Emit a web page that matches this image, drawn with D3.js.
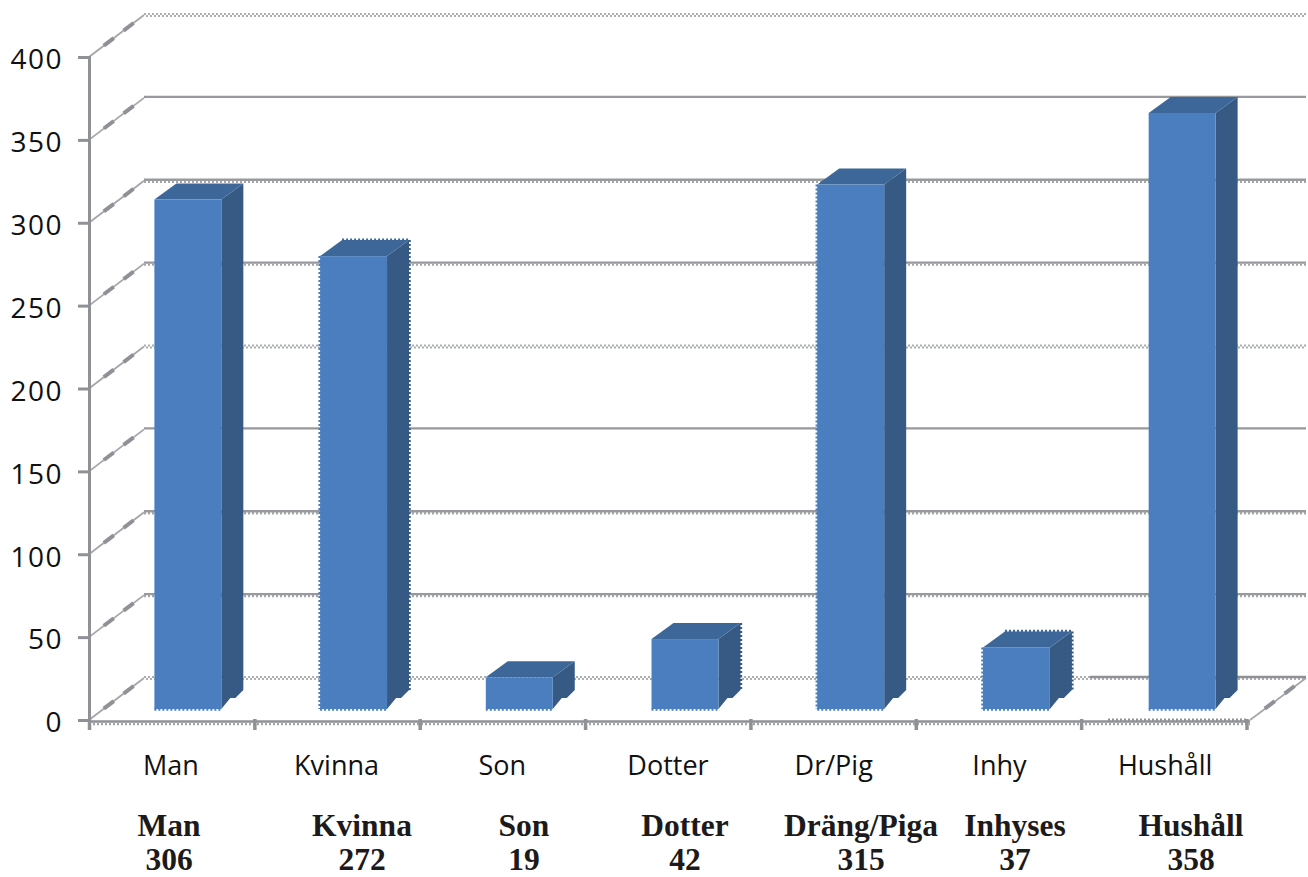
<!DOCTYPE html>
<html>
<head>
<meta charset="utf-8">
<script src="https://cdn.jsdelivr.net/npm/d3@7"></script>
<style>
  html, body { margin: 0; padding: 0; background: #fff; }
  svg { display: block; }
</style>
</head>
<body>
<div id="chart"></div>
<script>
const categories = ["Man", "Kvinna", "Son", "Dotter", "Dr/Pig", "Inhy", "Hushåll"];
const values = [306, 272, 19, 42, 315, 37, 358];
const yTicks = [0, 50, 100, 150, 200, 250, 300, 350, 400];
const captionNames = ["Man", "Kvinna", "Son", "Dotter", "Dräng/Piga", "Inhyses", "Hushåll"];
const captionValues = ["306", "272", "19", "42", "315", "37", "358"];

const width = 1308, height = 877;
const depthX = 55, depthY = 42;      // forskjutning till bakväggen
const barDepthX = 22, barDepthY = 16;
const axisColor = "#8f9196";
const frontColor = "#4a7ebf";

const svg = d3.select("#chart").append("svg")
    .attr("width", width)
    .attr("height", height)
    .attr("viewBox", `0 0 ${width} ${height}`);

const y = d3.scaleLinear().domain([0, 400]).range([720, 57]);
const barY = d3.scaleLinear().domain([0, 400]).range([709, 43]);
const x = d3.scaleBand().domain(categories).range([88, 1248]);
const barX = d3.scaleBand().domain(categories).range([105, 1265])
    .paddingInner(0.596).paddingOuter(0.298);

// Rutnät på bakväggen: hel linje, linje med tänder eller ljus sicksack
const gridKind = v => {
    if (v === 150 || v === 350) return "solid";
    if (v === 0 || v === 200 || v === 400) return "light";
    return "toothed";
};
const gridX = [144, 1306];

const grid = svg.append("g");
grid.selectAll("line.main")
    .data(yTicks.filter(v => gridKind(v) !== "light"))
    .join("line")
    .attr("class", "main")
    .attr("x1", gridX[0]).attr("x2", gridX[1])
    .attr("y1", d => y(d) - depthY - 1)
    .attr("y2", d => y(d) - depthY - 1)
    .attr("stroke", "#97999d")
    .attr("stroke-width", 2.4);
grid.selectAll("line.tooth")
    .data(yTicks.filter(v => gridKind(v) === "toothed"))
    .join("line")
    .attr("class", "tooth")
    .attr("x1", gridX[0]).attr("x2", gridX[1])
    .attr("y1", d => y(d) - depthY + 1)
    .attr("y2", d => y(d) - depthY + 1)
    .attr("stroke", "#a3a5a8")
    .attr("stroke-width", 2.4)
    .attr("stroke-dasharray", "2,2");
[-1, 1].forEach((off, k) => {
    grid.selectAll(`line.zig${k}`)
        .data(yTicks.filter(v => gridKind(v) === "light"))
        .join("line")
        .attr("class", `zig${k}`)
        .attr("x1", gridX[0] + k * 2).attr("x2", gridX[1])
        .attr("y1", d => y(d) - depthY + off)
        .attr("y2", d => y(d) - depthY + off)
        .attr("stroke", "#acaeb1")
        .attr("stroke-width", 2)
        .attr("stroke-dasharray", "2,2");
});

// Diagonalerna från axeln till väggen
const blobs = [0.36, 0.72];
const diag = svg.append("g");
diag.selectAll("line.thin")
    .data(yTicks)
    .join("line")
    .attr("class", "thin")
    .attr("x1", 89)
    .attr("x2", 89 + depthX)
    .attr("y1", d => y(d))
    .attr("y2", d => y(d) - depthY)
    .attr("stroke", "#a4a6a9")
    .attr("stroke-width", 1.8);
blobs.forEach((t, k) => {
    diag.selectAll(`line.blob${k}`)
        .data(yTicks)
        .join("line")
        .attr("class", `blob${k}`)
        .attr("x1", 89 + depthX * (t - 0.09))
        .attr("x2", 89 + depthX * (t + 0.09))
        .attr("y1", d => y(d) - depthY * (t - 0.09))
        .attr("y2", d => y(d) - depthY * (t + 0.09))
        .attr("stroke", axisColor)
        .attr("stroke-width", 4);
});

// Golvet
const floor = svg.append("g").attr("fill", "none").attr("stroke", axisColor);
floor.append("line")
    .attr("x1", 1250).attr("y1", y(0)).attr("x2", 1306).attr("y2", y(0) - depthY)
    .attr("stroke", "#a4a6a9").attr("stroke-width", 1.8);
blobs.forEach(t => {
    floor.append("line")
        .attr("x1", 1250 + depthX * (t - 0.09)).attr("x2", 1250 + depthX * (t + 0.09))
        .attr("y1", y(0) - depthY * (t - 0.09)).attr("y2", y(0) - depthY * (t + 0.09))
        .attr("stroke-width", 4);
});
floor.append("line")
    .attr("x1", 1090).attr("x2", 1306).attr("y1", y(0) - depthY - 1).attr("y2", y(0) - depthY - 1)
    .attr("stroke-width", 2.4);

// Staplarna
const barData = categories.map((c, i) => ({ c, v: values[i] }));
const bars = svg.append("g").selectAll("g")
    .data(barData)
    .join("g");

// vilka stapelkanter som är fransiga i originalet
const frayLeft = ["Kvinna", "Dr/Pig", "Inhy"];
const frayBack = ["Kvinna", "Inhy"];
const frayRight = ["Kvinna", "Dotter", "Inhy"];

bars.append("path")
    .attr("fill", "#375a85")
    .attr("d", d => {
        const r = barX(d.c) + barX.bandwidth();
        const t = barY(d.v), b = barY(0);
        return `M${r},${t}L${r + barDepthX},${t - barDepthY}V${b - barDepthY - 3}L${r + 14},${b - 11}H${r + 9}L${r},${b}Z`;
    });

bars.append("path")
    .attr("fill", "#3d6798")
    .attr("d", d => {
        const l = barX(d.c), r = l + barX.bandwidth();
        const t = barY(d.v);
        return `M${l},${t}L${l + barDepthX},${t - barDepthY}H${r + barDepthX}L${r},${t}Z`;
    });

bars.append("rect")
    .attr("x", d => barX(d.c))
    .attr("y", d => barY(d.v))
    .attr("width", barX.bandwidth())
    .attr("height", d => barY(0) - barY(d.v))
    .attr("fill", frontColor);

const fray = (sel, color) => sel.append("line")
    .attr("stroke", color)
    .attr("stroke-width", 2.4)
    .attr("stroke-dasharray", "2,2");

fray(bars, frontColor)
    .attr("x1", d => barX(d.c))
    .attr("x2", d => barX(d.c) + barX.bandwidth())
    .attr("y1", barY(0) + 0.5)
    .attr("y2", barY(0) + 0.5);
fray(bars.filter(d => frayLeft.includes(d.c)), frontColor)
    .attr("x1", d => barX(d.c) - 0.5)
    .attr("x2", d => barX(d.c) - 0.5)
    .attr("y1", d => barY(d.v))
    .attr("y2", barY(0));
fray(bars.filter(d => frayBack.includes(d.c)), "#3d6798")
    .attr("x1", d => barX(d.c) + barDepthX)
    .attr("x2", d => barX(d.c) + barX.bandwidth() + barDepthX)
    .attr("y1", d => barY(d.v) - barDepthY - 0.5)
    .attr("y2", d => barY(d.v) - barDepthY - 0.5);
fray(bars.filter(d => frayRight.includes(d.c)), "#375a85")
    .attr("x1", d => barX(d.c) + barX.bandwidth() + barDepthX + 0.5)
    .attr("x2", d => barX(d.c) + barX.bandwidth() + barDepthX + 0.5)
    .attr("y1", d => barY(d.v) - barDepthY)
    .attr("y2", barY(0) - barDepthY - 3);

// Axlar
const yAxis = d3.axisLeft(y).tickValues(yTicks).tickSize(11).tickPadding(15);
const yG = svg.append("g").attr("transform", "translate(89,0)").call(yAxis);
yG.select(".domain").attr("stroke", axisColor).attr("stroke-width", 3);
yG.selectAll("line").attr("stroke", axisColor).attr("stroke-width", 3);
yG.selectAll("text")
    .attr("fill", "#111")
    .attr("dy", "0.42em")
    .style("font-family", "'Open Sans'")
    .style("font-size", "28px")
    .style("letter-spacing", "1.5px");

const xAxis = d3.axisBottom(x).tickSize(0).tickPadding(34);
const xG = svg.append("g").attr("transform", "translate(0,722)").call(xAxis);
xG.select(".domain").remove();
xG.selectAll("text")
    .attr("fill", "#111")
    .style("font-family", "'Open Sans'")
    .style("font-size", "27px");

const tickX = d3.scaleLinear().domain([0, categories.length]).range([89.5, 1247]);
const base = svg.append("g").attr("stroke", axisColor);
base.append("line")
    .attr("x1", 89).attr("x2", 1250).attr("y1", 721.5).attr("y2", 721.5)
    .attr("stroke-width", 2.4);
base.append("line")
    .attr("x1", 89).attr("x2", 1250).attr("y1", 724).attr("y2", 724)
    .attr("stroke-width", 2.4).attr("stroke-dasharray", "2,2").attr("stroke", "#a2a4a7");
base.append("line")
    .attr("x1", 1108).attr("x2", 1248).attr("y1", 720).attr("y2", 720)
    .attr("stroke-width", 3).attr("stroke-dasharray", "2,2");
base.selectAll("line.tick")
    .data(d3.range(categories.length + 1))
    .join("line")
    .attr("class", "tick")
    .attr("x1", i => tickX(i))
    .attr("x2", i => tickX(i))
    .attr("y1", 719)
    .attr("y2", 730)
    .attr("stroke-width", 3.5);

// Fetstilt textblock under diagrammet
const captionX = [169, 362, 524, 685, 861, 1015, 1191];
const captions = svg.append("g")
    .attr("text-anchor", "middle")
    .attr("fill", "#1c1a1a")
    .style("font-family", "'Liberation Serif'")
    .style("font-weight", "bold")
    .style("font-size", "31.5px");
captions.selectAll("text.name")
    .data(captionNames)
    .join("text")
    .attr("class", "name")
    .attr("x", (d, i) => captionX[i])
    .attr("y", 836)
    .text(d => d);
captions.selectAll("text.val")
    .data(captionValues)
    .join("text")
    .attr("class", "val")
    .attr("x", (d, i) => captionX[i])
    .attr("y", 870)
    .text(d => d);
</script>
</body>
</html>
